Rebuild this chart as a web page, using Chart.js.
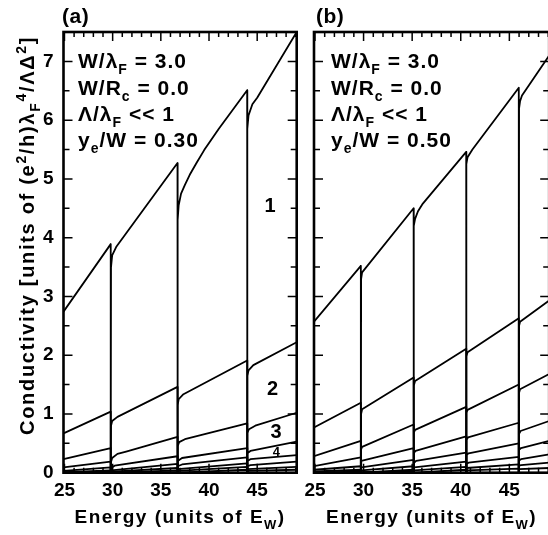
<!DOCTYPE html>
<html>
<head>
<meta charset="utf-8">
<title>Conductivity vs energy</title>
<script src="https://cdn.jsdelivr.net/npm/chart.js@4/dist/chart.umd.min.js"></script>
<style>
  html, body { margin: 0; padding: 0; background: #fff; }
  body { width: 548px; height: 535px; position: relative; overflow: hidden; }
  .panel { position: absolute; top: 0; }
  #wrapA { left: 0; }
  #wrapB { left: 290px; }
</style>
</head>
<body>
<div class="panel" id="wrapA"><canvas id="panelA" width="305" height="535"></canvas></div>
<div class="panel" id="wrapB"><canvas id="panelB" width="270" height="535"></canvas></div>
<script>
const FONT = '"Liberation Sans", Arial, Helvetica, sans-serif';

// energy axis (units of E_W) and tick labels
const xMin = 24.9;
const xMax = 49.1;
const xTickValues = [25, 30, 35, 40, 45];
const yTickValues = [0, 1, 2, 3, 4, 5, 6, 7];

// (a) y_e/W = 0.30 -- partial sums, top curve is the total.
// Each threshold: drop to zero then a steep recovery.
const curveA1 = [[24.9, 2.74], [29.8, 3.89], [29.8, 0], [29.83, 3.5], [29.95, 3.7], [30.4, 3.85], [36.73, 5.27],
  [36.73, 0], [36.76, 4.3], [36.85, 4.55], [37.1, 4.75], [37.5, 4.9], [38.0, 5.07], [38.7, 5.27], [39.5, 5.49], [41.0, 5.85], [43.96, 6.51],
  [43.96, 0], [43.99, 5.85], [44.1, 6.08], [44.5, 6.27], [45.0, 6.38], [49.1, 7.5]];
const curveA2 = [[24.9, 0.67], [29.8, 1.04], [29.8, 0], [29.83, 0.8], [29.95, 0.88], [30.5, 0.95], [36.73, 1.46],
  [36.73, 0], [36.76, 1.15], [36.85, 1.25], [37.3, 1.33], [43.96, 1.91],
  [43.96, 0], [43.99, 1.65], [44.1, 1.74], [44.6, 1.83], [49.1, 2.22]];
const curveA3 = [[24.9, 0.23], [29.8, 0.42], [29.8, 0], [29.83, 0.18], [29.95, 0.25], [30.5, 0.32], [31.4, 0.36], [36.73, 0.61],
  [36.73, 0], [36.76, 0.45], [36.9, 0.52], [37.5, 0.57], [43.96, 0.84],
  [43.96, 0], [43.99, 0.68], [44.15, 0.74], [44.8, 0.8], [49.1, 1.02]];
const curveA4 = [[24.9, 0.09], [29.8, 0.19], [29.8, 0], [29.85, 0.08], [30.2, 0.12], [36.73, 0.28],
  [36.73, 0], [36.78, 0.2], [37.2, 0.25], [43.96, 0.42],
  [43.96, 0], [44.0, 0.33], [44.3, 0.37], [49.1, 0.53]];
const curveA5 = [[24.9, 0.03], [29.8, 0.09], [29.8, 0], [29.85, 0.04], [36.73, 0.15],
  [36.73, 0], [36.78, 0.11], [37.2, 0.14], [43.96, 0.26],
  [43.96, 0], [44.0, 0.2], [44.3, 0.23], [49.1, 0.3]];
const curveA6 = [[24.9, 0.01], [29.8, 0.04], [29.8, 0], [29.85, 0.02], [36.73, 0.08],
  [36.73, 0], [36.78, 0.06], [43.96, 0.16],
  [43.96, 0], [44.0, 0.11], [44.3, 0.13], [49.1, 0.19]];
const curveA7 = [[24.9, 0], [29.8, 0.02], [29.8, 0], [36.73, 0.04],
  [36.73, 0], [36.78, 0.03], [43.96, 0.1],
  [43.96, 0], [44.0, 0.06], [49.1, 0.1]];
const curveA8 = [[24.9, 0], [36.73, 0.01], [36.73, 0], [43.96, 0.05],
  [43.96, 0], [44.0, 0.03], [49.1, 0.05]];

// (b) y_e/W = 0.50
const curveB1 = [[24.9, 2.57], [29.72, 3.52], [29.72, 0], [29.75, 3.3], [29.85, 3.41], [35.15, 4.5],
  [35.15, 0], [35.18, 4.2], [35.3, 4.32], [35.6, 4.45], [36.1, 4.58], [40.56, 5.46],
  [40.56, 0], [40.59, 5.25], [40.7, 5.37], [41.2, 5.5], [45.97, 6.55],
  [45.97, 0], [46.0, 6.2], [46.1, 6.32], [46.3, 6.42], [49.1, 7.1]];
const curveB2 = [[24.9, 0.77], [29.72, 1.19], [29.72, 0], [29.75, 1.0], [29.85, 1.08], [35.15, 1.62],
  [35.15, 0], [35.18, 1.48], [35.3, 1.56], [40.56, 2.11],
  [40.56, 0], [40.59, 1.98], [40.7, 2.05], [45.97, 2.63],
  [45.97, 0], [46.0, 2.5], [46.1, 2.57], [49.1, 2.93]];
const curveB3 = [[24.9, 0.28], [29.72, 0.54], [29.72, 0], [29.75, 0.4], [29.85, 0.44], [35.15, 0.82],
  [35.15, 0], [35.18, 0.68], [35.3, 0.73], [40.56, 1.12],
  [40.56, 0], [40.59, 1.02], [40.7, 1.07], [45.97, 1.5],
  [45.97, 0], [46.0, 1.36], [46.1, 1.42], [49.1, 1.68]];
const curveB4 = [[24.9, 0.11], [29.72, 0.26], [29.72, 0], [29.77, 0.2], [35.15, 0.42],
  [35.15, 0], [35.2, 0.34], [35.35, 0.37], [40.56, 0.62],
  [40.56, 0], [40.6, 0.56], [40.75, 0.6], [45.97, 0.85],
  [45.97, 0], [46.0, 0.66], [46.15, 0.71], [49.1, 0.88]];
const curveB5 = [[24.9, 0.05], [29.72, 0.11], [29.72, 0], [29.77, 0.09], [35.15, 0.22],
  [35.15, 0], [35.2, 0.17], [35.4, 0.2], [40.56, 0.34],
  [40.56, 0], [40.6, 0.3], [40.8, 0.33], [45.97, 0.5],
  [45.97, 0], [46.0, 0.39], [46.2, 0.42], [49.1, 0.54]];
const curveB6 = [[24.9, 0.02], [29.72, 0.05], [29.72, 0], [29.77, 0.04], [35.15, 0.11],
  [35.15, 0], [35.2, 0.09], [40.56, 0.19],
  [40.56, 0], [40.6, 0.15], [40.8, 0.17], [45.97, 0.27],
  [45.97, 0], [46.0, 0.21], [46.2, 0.23], [49.1, 0.31]];
const curveB7 = [[24.9, 0], [29.72, 0.02], [29.72, 0], [35.15, 0.05],
  [35.15, 0], [35.2, 0.04], [40.56, 0.1],
  [40.56, 0], [40.6, 0.08], [45.97, 0.14],
  [45.97, 0], [46.0, 0.12], [46.2, 0.13], [49.1, 0.17]];
const curveB8 = [[24.9, 0], [35.15, 0.02], [35.15, 0], [40.56, 0.05],
  [40.56, 0], [40.6, 0.04], [45.97, 0.07], [45.97, 0], [46.0, 0.06], [49.1, 0.08]];

const curvesA = [curveA1, curveA2, curveA3, curveA4, curveA5, curveA6, curveA7, curveA8];
const curvesB = [curveB1, curveB2, curveB3, curveB4, curveB5, curveB6, curveB7, curveB8];

// subband numbers written between the curves of (a): [text, energy, conductivity, size]
const bandLabelsA = [['1', 46.33, 4.53, 20], ['2', 46.6, 1.41, 20], ['3', 46.95, 0.69, 20], ['4', 47.0, 0.35, 13]];

// text runs: 0 normal, -1 subscript, 1 superscript
const notesA = [
  [['W/λ', 0], ['F', -1], [' = 3.0', 0]],
  [['W/R', 0], ['c', -1], [' = 0.0', 0]],
  [['Λ/λ', 0], ['F', -1], [' << 1', 0]],
  [['y', 0], ['e', -1], ['/W = 0.30', 0]],
];
const notesB = [
  [['W/λ', 0], ['F', -1], [' = 3.0', 0]],
  [['W/R', 0], ['c', -1], [' = 0.0', 0]],
  [['Λ/λ', 0], ['F', -1], [' << 1', 0]],
  [['y', 0], ['e', -1], ['/W = 0.50', 0]],
];
const noteBaselines = [68, 95, 121, 147];
const xTitle = [['Energy (units of E', 0], ['W', -1], [')', 0]];
const yTitle = [['Conductivity [units of (e', 0], ['2', 1], ['/h)λ', 0], ['F', -1], ['4', 1], ['/ΛΔ', 0], ['2', 1], [']', 0]];

function runFont(size, kind) {
  return `bold ${kind ? Math.round(size * 0.68) : size}px ${FONT}`;
}

function measureRuns(ctx, runs, size, spacing) {
  let w = 0;
  for (const [text, kind] of runs) {
    ctx.font = runFont(size, kind);
    ctx.letterSpacing = spacing + 'px';
    w += ctx.measureText(text).width;
  }
  return w;
}

function drawRuns(ctx, runs, x, y, size, spacing) {
  let cx = x;
  for (const [text, kind] of runs) {
    ctx.font = runFont(size, kind);
    ctx.letterSpacing = spacing + 'px';
    const dy = kind < 0 ? size * 0.3 : kind > 0 ? -size * 0.42 : 0;
    ctx.fillText(text, cx, y + dy);
    cx += ctx.measureText(text).width;
  }
}

// frame with inward ticks, panel tag, parameter block and axis titles
const panelPlugin = {
  id: 'panel',
  afterDraw(chart, args, o) {
    const { ctx, chartArea: a, scales: { x, y } } = chart;
    ctx.save();
    ctx.strokeStyle = '#000';
    ctx.fillStyle = '#000';
    ctx.lineWidth = 1.5;
    ctx.beginPath();
    for (let v = 25; v <= 49; v++) {
      const px = x.getPixelForValue(v);
      const len = v % 5 === 0 ? 9 : 5;
      ctx.moveTo(px, a.bottom); ctx.lineTo(px, a.bottom - len);
      ctx.moveTo(px, a.top); ctx.lineTo(px, a.top + len);
    }
    for (let k = 1; k < 15; k++) {
      const py = y.getPixelForValue(k * 0.5);
      const len = k % 2 === 0 ? 9 : 6;
      ctx.moveTo(a.left, py); ctx.lineTo(a.left + len, py);
      ctx.moveTo(a.right, py); ctx.lineTo(a.right - len, py);
    }
    ctx.stroke();
    ctx.lineWidth = 2.6;
    ctx.strokeRect(a.left, a.top, a.right - a.left, a.bottom - a.top);

    ctx.textAlign = 'left';
    ctx.textBaseline = 'alphabetic';
    ctx.font = `bold 21px ${FONT}`;
    ctx.letterSpacing = '0.5px';
    ctx.fillText(o.tag, o.tagX, 23);

    o.notes.forEach((runs, i) => drawRuns(ctx, runs, a.left + o.notesX, noteBaselines[i], 21, 1));

    ctx.letterSpacing = '0px';
    ctx.textAlign = 'center';
    ctx.textBaseline = 'middle';
    for (const [t, vx, vy, size] of o.labels) {
      ctx.font = `bold ${size}px ${FONT}`;
      ctx.fillText(t, x.getPixelForValue(vx), y.getPixelForValue(vy));
    }
    ctx.textAlign = 'left';
    ctx.textBaseline = 'alphabetic';

    const w = measureRuns(ctx, xTitle, 19, 1.5);
    drawRuns(ctx, xTitle, (a.left + a.right) / 2 - w / 2, 523, 19, 1.5);

    if (o.yTitle) {
      ctx.translate(34, 435);
      ctx.rotate(-Math.PI / 2);
      drawRuns(ctx, yTitle, 0, 0, 20, 1.7);
    }
    ctx.restore();
  }
};

function makePanel(canvasId, curves, axisWidth, padRight, panelOpts) {
  const tickFont = { family: FONT, size: 19, weight: 'bold' };
  return new Chart(document.getElementById(canvasId), {
    type: 'line',
    data: {
      datasets: curves.map(pts => ({
        data: pts.map(([x, y]) => ({ x, y })),
        borderColor: '#000',
        borderWidth: 1.8,
        borderJoinStyle: 'round',
        pointRadius: 0,
        tension: 0,
        fill: false,
      })),
    },
    options: {
      responsive: false,
      animation: false,
      devicePixelRatio: 1,
      layout: { padding: { top: 32, right: padRight, left: 0, bottom: 0 } },
      plugins: { legend: { display: false }, tooltip: { enabled: false }, panel: panelOpts },
      scales: {
        x: {
          type: 'linear', min: xMin, max: xMax,
          afterFit: s => { s.height = 62.3; },
          afterBuildTicks: s => { s.ticks = xTickValues.map(v => ({ value: v })); },
          grid: { display: false, drawTicks: false },
          border: { display: false },
          ticks: { autoSkip: false, maxRotation: 0, padding: 6.5, color: '#000', font: tickFont },
        },
        y: {
          min: 0, max: 7.5,
          afterFit: s => { s.width = axisWidth; },
          afterBuildTicks: s => { s.ticks = yTickValues.map(v => ({ value: v })); },
          grid: { display: false, drawTicks: false },
          border: { display: false },
          ticks: { display: panelOpts.yTitle, autoSkip: false, padding: 10, color: '#000', font: tickFont },
        },
      },
    },
    plugins: [panelPlugin],
  });
}

makePanel('panelA', curvesA, 63.5, 8.3,
  { tag: '(a)', tagX: 62, notes: notesA, notesX: 14.5, labels: bandLabelsA, yTitle: true });
makePanel('panelB', curvesB, 24, 10.8,
  { tag: '(b)', tagX: 26, notes: notesB, notesX: 17, labels: [], yTitle: false });
</script>
</body>
</html>
